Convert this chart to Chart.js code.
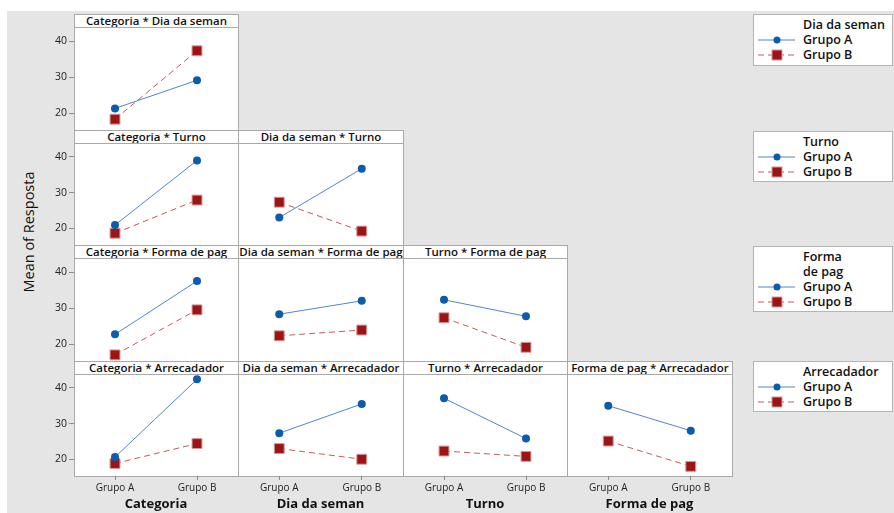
<!DOCTYPE html>
<html>
<head>
<meta charset="utf-8">
<script src="https://cdn.jsdelivr.net/npm/chart.js@4/dist/chart.umd.min.js"></script>
<style>
  html, body { margin:0; padding:0; background:#fff; }
  body { width:894px; height:513px; position:relative; overflow:hidden; font-family:"Open Sans","Noto Sans",sans-serif; }
  #bg { position:absolute; left:7px; top:11px; width:887px; height:502px; background:#e5e5e5; }
  .panel { position:absolute; box-sizing:border-box; border:1px solid #a9a9a9; background:#fff; }
  .hdr { position:absolute; left:0; right:0; top:0; height:12px; border-bottom:1px solid #a9a9a9; box-sizing:content-box;
         font-size:11.5px; font-weight:600; line-height:12px; text-align:center; color:#111; white-space:nowrap; overflow:hidden; }
  canvas { position:absolute; }
  .leg { position:absolute; left:753px; width:140px; box-sizing:border-box; border:1px solid #b4b4b4; background:#fff; }
  .legt { position:absolute; left:49px; font-size:12.5px; font-weight:600; color:#111; line-height:15px; white-space:nowrap; }
  .legs { position:absolute; left:4px; }
  #ytitle { position:absolute; left:28px; top:232px; transform:translate(-50%,-50%) rotate(-90deg); font-size:14.5px; color:#111; white-space:nowrap; }
</style>
</head>
<body>
<div id="bg"></div>
<div id="ytitle">Mean of Resposta</div>
<script>
// ---- data ----
const levels = ['Grupo A', 'Grupo B'];
const factors = ['Categoria', 'Dia da seman', 'Turno', 'Forma de pag', 'Arrecadador'];
const legendTitles = ['Dia da seman', 'Turno', 'Forma\nde pag', 'Arrecadador'];
const yTicks = [20, 30, 40];

const catDia_A = [21.3, 29.1],     catDia_B = [18.3, 37.3];
const catTurno_A = [20.9, 39.0],   catTurno_B = [18.6, 27.9];
const diaTurno_A = [23.0, 36.7],   diaTurno_B = [27.3, 19.2];
const catForma_A = [22.7, 37.5],   catForma_B = [17.0, 29.5];
const diaForma_A = [28.3, 32.0],   diaForma_B = [22.3, 23.9];
const turnoForma_A = [32.3, 27.7], turnoForma_B = [27.3, 19.1];
const catArr_A = [20.6, 42.4],     catArr_B = [18.8, 24.4];
const diaArr_A = [27.3, 35.5],     diaArr_B = [23.0, 20.0];
const turnoArr_A = [37.1, 25.8],   turnoArr_B = [22.3, 20.8];
const formaArr_A = [35.0, 28.0],   formaArr_B = [25.1, 18.0];

// rows: trace factor = factors[r+1]; columns: x factor = factors[c]
const panels = [
  [[catDia_A, catDia_B]],
  [[catTurno_A, catTurno_B], [diaTurno_A, diaTurno_B]],
  [[catForma_A, catForma_B], [diaForma_A, diaForma_B], [turnoForma_A, turnoForma_B]],
  [[catArr_A, catArr_B], [diaArr_A, diaArr_B], [turnoArr_A, turnoArr_B], [formaArr_A, formaArr_B]]
];

// ---- layout / style ----
const colLeft = [74, 238, 403, 567];
const colRight = [238, 403, 567, 732];
const rowTop = [14, 130, 245, 361];
const rowBottom = [130, 245, 361, 476];
const HDR = 13;
const YAXW = 50, XAXH = 37;
const yMin = 15.3, yMax = 43.9;
const blue = '#0b5cad', blueLine = '#4f85cc';
const red = '#9c1414', redLine = '#c45a5a', redEdge = '#d59a9a';
const FONT = '"Open Sans","Noto Sans",sans-serif';

for (let r = 0; r < 4; r++) {
  for (let c = 0; c <= r; c++) {
    const p = document.createElement('div');
    p.className = 'panel';
    p.style.left = colLeft[c] + 'px';
    p.style.top = rowTop[r] + 'px';
    p.style.width = (colRight[c] - colLeft[c] + 1) + 'px';
    p.style.height = (rowBottom[r] - rowTop[r] + 1) + 'px';
    const h = document.createElement('div');
    h.className = 'hdr';
    h.textContent = factors[c] + ' * ' + factors[r + 1];
    p.appendChild(h);
    document.body.appendChild(p);

    const firstCol = c === 0, lastRow = r === 3;
    const cv = document.createElement('canvas');
    const plotTop = rowTop[r] + HDR;
    const left = colLeft[c] - (firstCol ? YAXW : 0);
    const w = colRight[c] - colLeft[c] + (firstCol ? YAXW : 0);
    const hh = rowBottom[r] - plotTop + (lastRow ? XAXH : 0);
    cv.width = w; cv.height = hh;
    cv.style.left = left + 'px'; cv.style.top = plotTop + 'px';
    cv.style.width = w + 'px'; cv.style.height = hh + 'px';
    document.body.appendChild(cv);

    const [a, b] = panels[r][c];
    new Chart(cv, {
      type: 'line',
      data: {
        labels: levels,
        datasets: [
          { label: levels[0], data: a, borderColor: blueLine, borderWidth: 1, backgroundColor: blue,
            pointStyle: 'circle', pointRadius: 4, pointBorderColor: blue, pointBackgroundColor: blue, pointBorderWidth: 0 },
          { label: levels[1], data: b, borderColor: redLine, borderWidth: 1, borderDash: [6, 4], backgroundColor: red,
            pointStyle: 'rect', pointRadius: 7, pointBorderColor: redEdge, pointBackgroundColor: red, pointBorderWidth: 1 }
        ]
      },
      options: {
        responsive: false, animation: false, devicePixelRatio: 1,
        layout: { padding: 0, autoPadding: false },
        clip: false,
        plugins: { legend: { display: false }, tooltip: { enabled: false }, title: { display: false } },
        scales: {
          x: {
            type: 'category', offset: true, display: lastRow,
            grid: { display: true, drawOnChartArea: false, tickLength: 4, color: '#8c8c8c', offset: false },
            border: { display: false },
            ticks: { font: { family: FONT, size: 10 }, color: '#222', padding: 2, maxRotation: 0 },
            title: { display: true, text: factors[c], font: { family: FONT, size: 13, weight: 'bold' }, color: '#111', padding: { top: 2, bottom: 1 } },
            afterFit: s => { s.height = lastRow ? XAXH : 0; s.paddingLeft = 0; s.paddingRight = 0; }
          },
          y: {
            type: 'linear', min: yMin, max: yMax, display: firstCol,
            afterBuildTicks: s => { s.ticks = yTicks.map(v => ({ value: v })); },
            grid: { display: true, drawOnChartArea: false, tickLength: 5, color: '#8c8c8c' },
            border: { display: false },
            ticks: { font: { family: FONT, size: 10.5 }, color: '#222', padding: 2 },
            afterFit: s => { s.width = firstCol ? YAXW : 0; s.paddingTop = 0; s.paddingBottom = 0; }
          }
        }
      }
    });
  }
}

// ---- legends ----
const legTop = [14, 131, 246, 361];
const legH = [52, 51, 66, 51];
for (let i = 0; i < 4; i++) {
  const L = document.createElement('div');
  L.className = 'leg';
  L.style.top = legTop[i] + 'px';
  L.style.height = legH[i] + 'px';
  const lines = legendTitles[i].split('\n');
  let y = 2;
  lines.forEach(t => {
    const d = document.createElement('div');
    d.className = 'legt'; d.style.top = y + 'px'; d.textContent = t;
    L.appendChild(d); y += 15;
  });
  levels.forEach((lv, k) => {
    const d = document.createElement('div');
    d.className = 'legt'; d.style.top = y + 'px'; d.textContent = lv;
    L.appendChild(d);
    const s = document.createElementNS('http://www.w3.org/2000/svg', 'svg');
    s.setAttribute('width', '40'); s.setAttribute('height', '12');
    s.setAttribute('class', 'legs');
    s.style.top = (y + 2) + 'px';
    if (k === 0) {
      s.innerHTML = '<line x1="0" y1="6" x2="37" y2="6" stroke="' + blueLine + '" stroke-width="1"/>' +
                    '<circle cx="19" cy="6" r="3.5" fill="' + blue + '"/>';
    } else {
      s.innerHTML = '<line x1="0" y1="6" x2="37" y2="6" stroke="' + redLine + '" stroke-width="1" stroke-dasharray="6,4"/>' +
                    '<rect x="14" y="1" width="10" height="10" fill="' + red + '" stroke="' + redEdge + '" stroke-width="1"/>';
    }
    L.appendChild(s);
    y += 15;
  });
  document.body.appendChild(L);
}
</script>
</body>
</html>
